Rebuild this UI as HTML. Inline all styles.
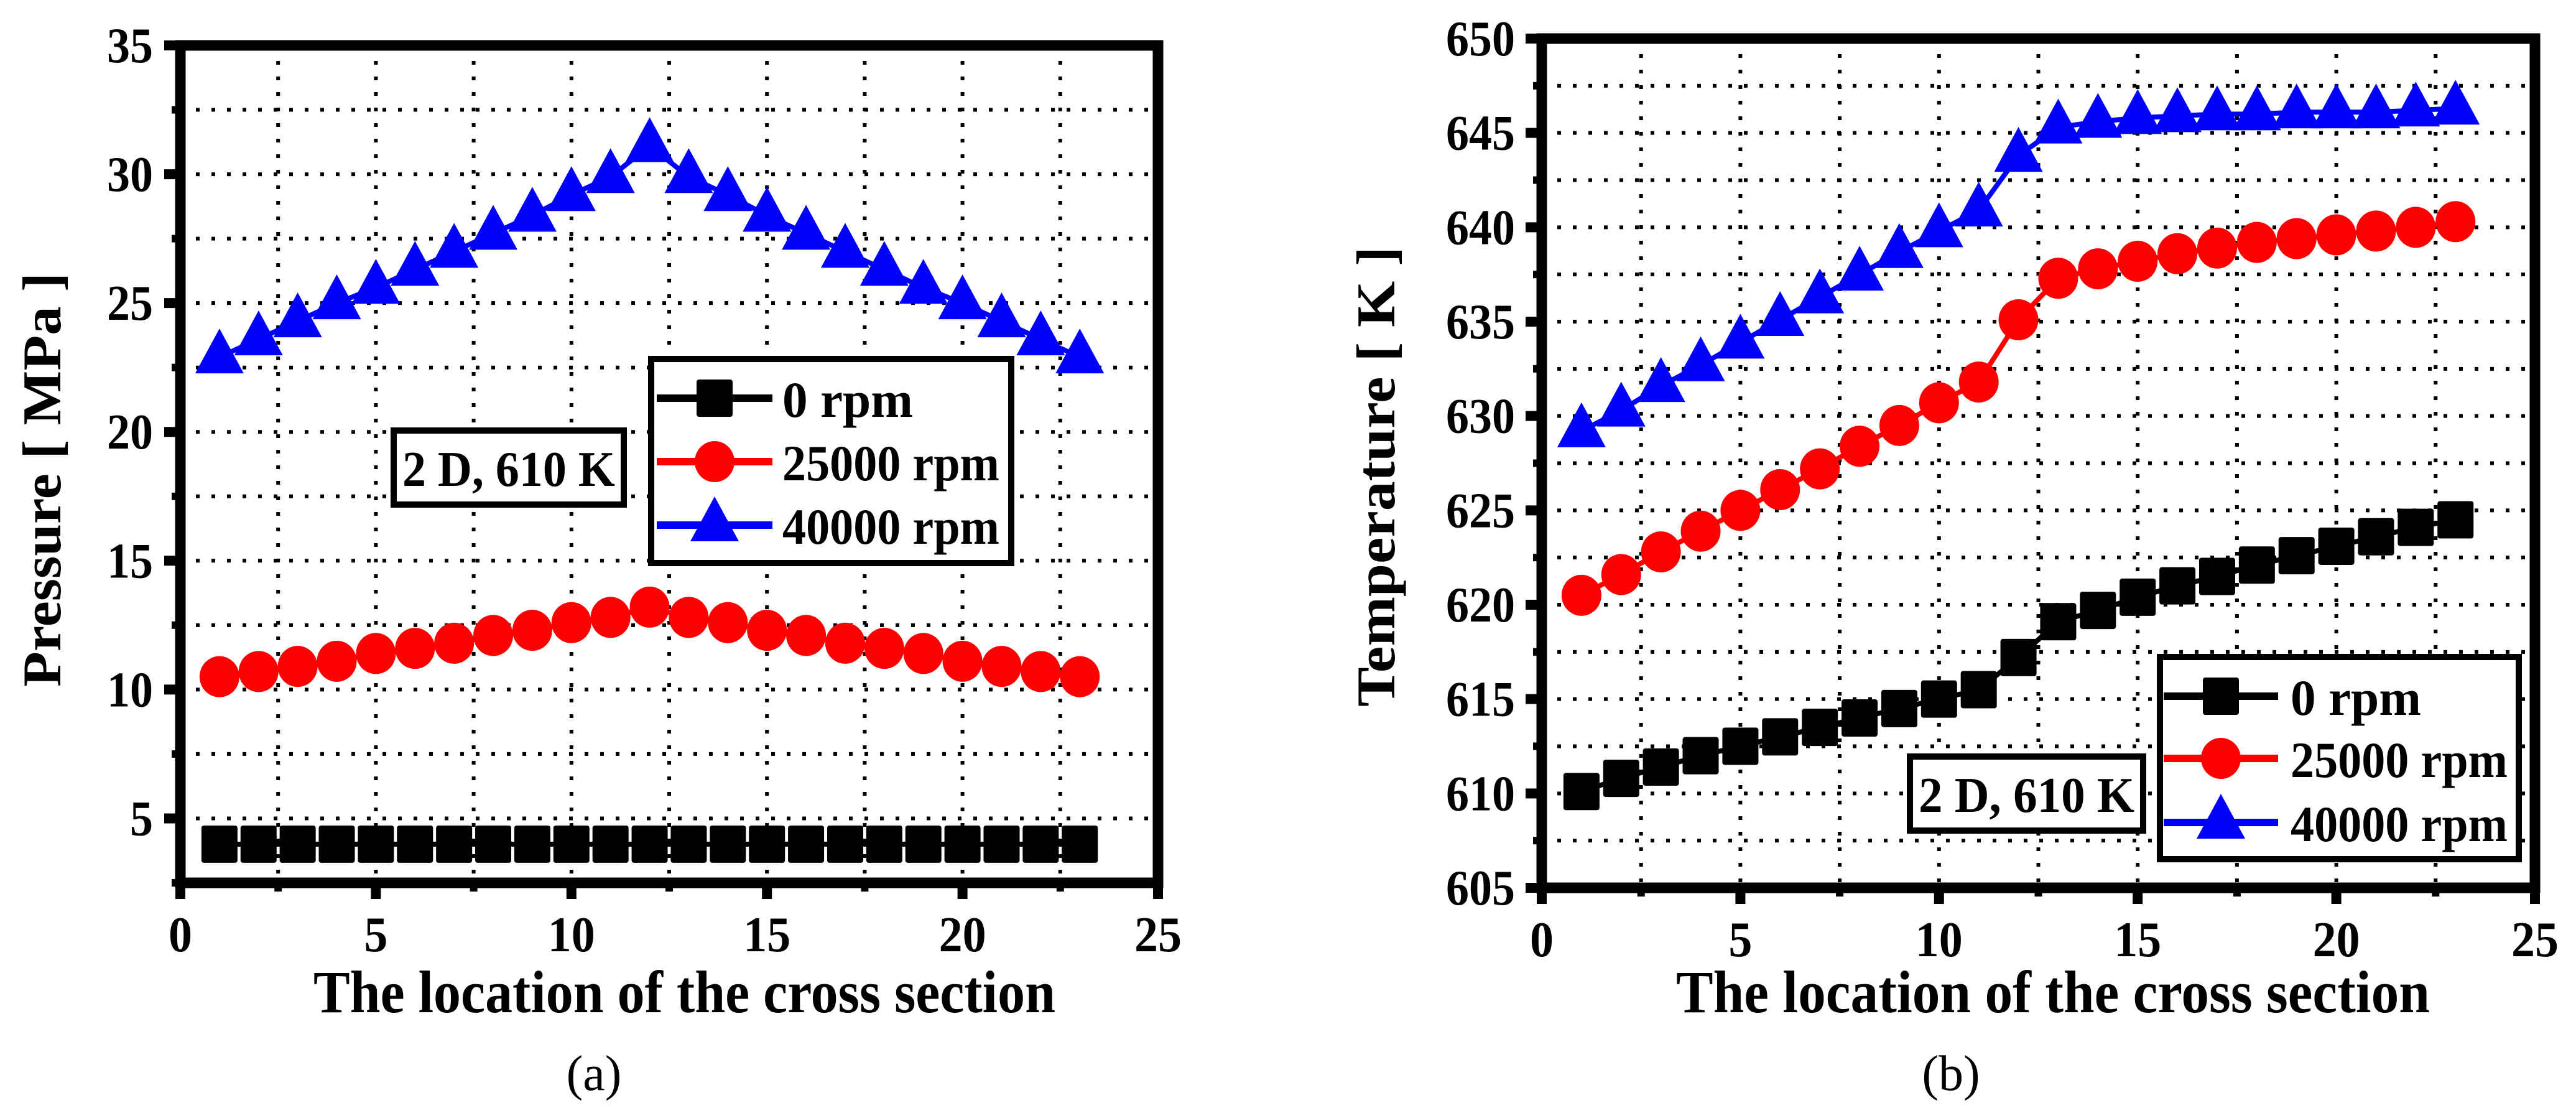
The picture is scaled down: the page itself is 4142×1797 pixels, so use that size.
<!DOCTYPE html>
<html><head><meta charset="utf-8">
<style>
html,body{margin:0;padding:0;background:#fff;}
svg{display:block;}
svg text{font-family:"Liberation Serif","Times New Roman",serif;}
</style></head>
<body>
<svg id="fig" xmlns="http://www.w3.org/2000/svg" width="4142" height="1797" viewBox="0 0 4142 1797">
<rect x="0" y="0" width="4142" height="1797" fill="#fff"/>
<g id="chartA"></g>
<g id="chartB"></g>
</svg>
<script>
// ---- data ----
const xs = [1,2,3,4,5,6,7,8,9,10,11,12,13,14,15,16,17,18,19,20,21,22,23];
const seriesNames = ["0 rpm","25000 rpm","40000 rpm"];
const xTicks = [0,5,10,15,20,25];
const pA0 = [4,4,4,4,4,4,4,4,4,4,4,4,4,4,4,4,4,4,4,4,4,4,4];
const pA25 = [10.5,10.7,10.9,11.1,11.4,11.6,11.8,12.1,12.3,12.6,12.8,13.2,12.8,12.6,12.3,12.1,11.8,11.6,11.4,11.1,10.9,10.7,10.5];
const pA40 = [22.9,23.6,24.3,25.0,25.6,26.3,27.0,27.7,28.4,29.2,29.9,31.1,29.9,29.2,28.4,27.7,27.0,26.3,25.6,25.0,24.3,23.6,22.9];
const yTicksA = [5,10,15,20,25,30,35];
const tB0 = [610.1,610.8,611.4,612.0,612.5,613.0,613.5,614.0,614.5,615.0,615.5,617.2,619.1,619.7,620.4,621.0,621.5,622.1,622.6,623.1,623.6,624.1,624.5];
const tB25 = [620.5,621.6,622.8,623.9,625.0,626.1,627.2,628.4,629.5,630.7,631.8,635.1,637.3,637.8,638.2,638.6,638.9,639.2,639.4,639.6,639.8,640.0,640.3];
const tB40 = [629.2,630.3,631.6,632.7,633.9,635.1,636.3,637.5,638.7,639.8,640.9,643.8,645.3,645.6,645.8,645.9,646.0,646.0,646.1,646.1,646.1,646.2,646.3];
const yTicksB = [605,610,615,620,625,630,635,640,645,650];

const NS = "http://www.w3.org/2000/svg";
const FF = "Liberation Serif, Times New Roman, serif";
function mk(parent, tag, attrs, text){
  const e = document.createElementNS(NS, tag);
  for (const k in attrs) e.setAttribute(k, attrs[k]);
  if (tag === "text") e.setAttribute("font-family", FF);
  if (text !== undefined) e.textContent = text;
  parent.appendChild(e);
  return e;
}
const colors = ["#000","#ff0000","#0000ff"];
const legLens = [210, 349, 349];

function marker(g, kind, cx, cy, color){
  let e;
  if (kind === 0) {
    e = mk(g, "rect", {x:cx-29, y:cy-30, width:58, height:60, rx:4, fill:color});
  } else if (kind === 1) {
    e = mk(g, "ellipse", {cx:cx, cy:cy, rx:32, ry:33, fill:color});
  } else {
    e = mk(g, "polygon", {points:(cx)+","+(cy-46)+" "+(cx-39)+","+(cy+26)+" "+(cx+39)+","+(cy+26), fill:color});
  }
  return e;
}

function drawChart(opt){
  const g = document.getElementById(opt.id);
  const X = v => opt.x0 + (v - 0) * (opt.x1 - opt.x0) / 25;
  const Y = v => opt.yTop + (opt.yMax - v) * (opt.yBot - opt.yTop) / (opt.yMax - opt.yMin);
  const grid = mk(g, "g", {});
  
  
  for (let v = 2.5; v < 25; v += 2.5) {
    mk(grid, "line", {x1:X(v), x2:X(v), y1:opt.yTop, y2:opt.yBot, stroke:"#000", "stroke-width":6, "stroke-dasharray":"6 19"});
  }
  for (let v = opt.yMin + 2.5; v < opt.yMax; v += 2.5) {
    mk(grid, "line", {x1:opt.x0, x2:opt.x1, y1:Y(v), y2:Y(v), stroke:"#000", "stroke-width":6, "stroke-dasharray":"6 19"});
  }
  const sers = opt.series;
  for (let s = 0; s < sers.length; s++) {
    const sg = mk(g, "g", {});
    
    
    const pts = xs.map((x, i) => X(x) + "," + Y(sers[s][i])).join(" ");
    mk(sg, "polyline", {points:pts, fill:"none", stroke:colors[s], "stroke-width":8});
    xs.forEach((x, i) => {
      const m = marker(sg, s, X(x), Y(sers[s][i]), colors[s]);
      
      
    });
  }
  const fr = mk(g, "rect", {x:opt.x0, y:opt.yTop, width:opt.x1-opt.x0, height:opt.yBot-opt.yTop, fill:"none", stroke:"#000", "stroke-width":17});
  
  
  for (let v = 0; v <= 25; v += 2.5) {
    const major = (v % 5 === 0);
    mk(g, "line", {x1:X(v), x2:X(v), y1:opt.yBot, y2:opt.yBot + (major ? 26 : 14), stroke:"#000", "stroke-width":major?16:12});
  }
  for (let v = opt.yMin; v <= opt.yMax + 0.01; v += 2.5) {
    const major = (Math.round(v*10) % 50 === 0);
    mk(g, "line", {x1:opt.x0 - (major ? 26 : 14), x2:opt.x0, y1:Y(v), y2:Y(v), stroke:"#000", "stroke-width":major?16:12});
  }
  xTicks.forEach(v => {
    const s = String(v);
    const t = mk(g, "text", {x:X(v), y:opt.yBot + 110, "text-anchor":"middle", "font-size":80, "font-weight":"bold", textLength:s.length*38, lengthAdjust:"spacingAndGlyphs"}, s);
    
    
  });
  opt.yTicks.forEach(v => {
    const s = String(v);
    const t = mk(g, "text", {x:opt.yLabRight, y:Y(v) + 27, "text-anchor":"end", "font-size":80, "font-weight":"bold", textLength:s.length*37, lengthAdjust:"spacingAndGlyphs"}, s);
    
    
  });
  const xt = mk(g, "text", {x:opt.xtL, y:1627, "font-size":96, "font-weight":"bold", textLength:opt.xtR-opt.xtL, lengthAdjust:"spacingAndGlyphs"}, "The location of the cross section");
  
  
  const yt = mk(g, "text", {x:0, y:0, "font-size":88, "font-weight":"bold", textLength:opt.ytLen, lengthAdjust:"spacingAndGlyphs", transform:"translate(" + opt.ytX + "," + opt.ytBot + ") rotate(-90)"}, opt.yTitle);
  
  
  const an = mk(g, "g", {});
  
  
  const a = opt.ann;
  mk(an, "rect", {x:a[0], y:a[1], width:a[2]-a[0], height:a[3]-a[1], fill:"#fff", stroke:"#000", "stroke-width":10});
  mk(an, "text", {x:a[0]+14, y:a[3]-30, "font-size":80, "font-weight":"bold", textLength:a[2]-a[0]-28, lengthAdjust:"spacingAndGlyphs"}, "2 D, 610 K");
  const L = opt.leg;
  const lg = mk(g, "g", {});
  
  
  mk(lg, "rect", {x:L.x0, y:L.y0, width:L.x1-L.x0, height:L.y1-L.y0, fill:"#fff", stroke:"#000", "stroke-width":10});
  L.rows.forEach((ry, s) => {
    const le = mk(lg, "g", {});
    
    
    mk(le, "line", {x1:L.lx0, x2:L.lx1, y1:ry, y2:ry, stroke:colors[s], "stroke-width":12});
    marker(le, s, (L.lx0 + L.lx1)/2, ry, colors[s]);
    mk(le, "text", {x:L.tx, y:ry + 30, "font-size":82, "font-weight":"bold", textLength:legLens[s], lengthAdjust:"spacingAndGlyphs"}, seriesNames[s]);
  });
  const pl = mk(g, "text", {x:opt.panelX, y:1752, "text-anchor":"middle", "font-size":80}, opt.panel);
  
  
}

drawChart({id:"chartA", x0:290, x1:1862, yTop:73, yBot:1419, yMin:2.5, yMax:35,
  series:[pA0,pA25,pA40], yTicks:yTicksA, yLabRight:246,
  xtL:504, xtR:1697, yTitle:"Pressure [ MPa ]", ytX:97, ytBot:1104, ytLen:666,
  ann:[633,692,1003,811],
  leg:{x0:1047,y0:577,x1:1626,y1:905,rows:[640,742,844],lx0:1056,lx1:1242,tx:1258},
  panel:"(a)", panelX:955});

drawChart({id:"chartB", x0:2479, x1:4076, yTop:62, yBot:1427, yMin:605, yMax:650,
  series:[tB0,tB25,tB40], yTicks:yTicksB, yLabRight:2436,
  xtL:2695, xtR:3907, yTitle:"Temperature [ K ]", ytX:2242, ytBot:1136, ytLen:740,
  ann:[3071,1216,3446,1335],
  leg:{x0:3473,y0:1056,x1:4050,y1:1381,rows:[1119,1219,1322],lx0:3479,lx1:3663,tx:3683},
  panel:"(b)", panelX:3137});
</script>
</body></html>
